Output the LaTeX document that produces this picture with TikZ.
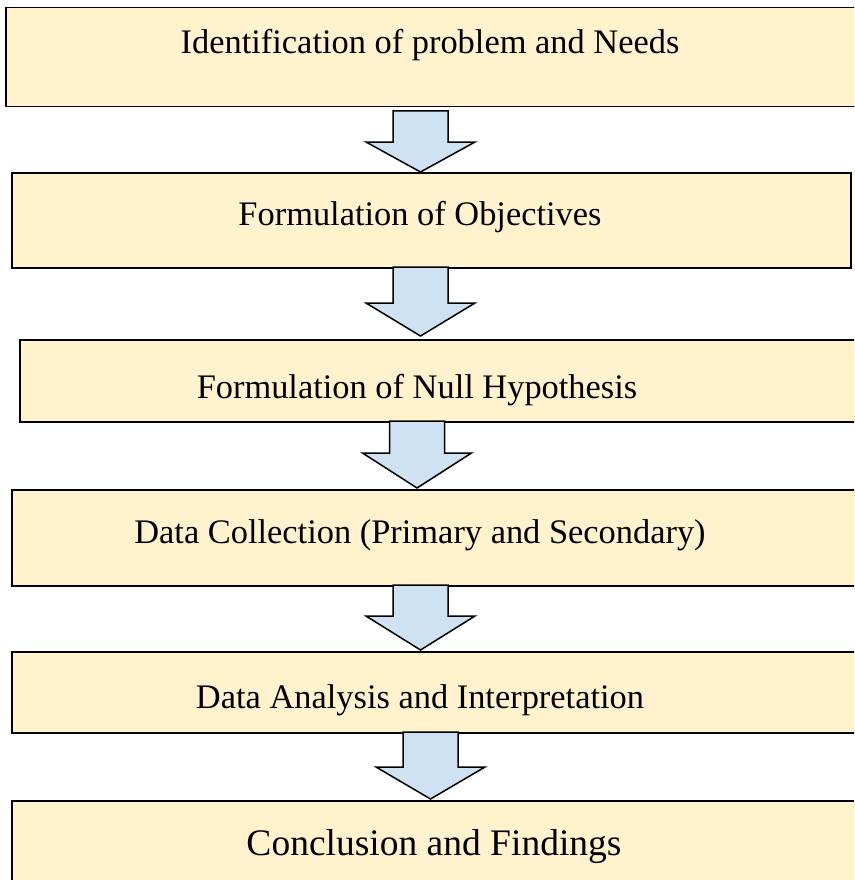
\documentclass[tikz,border=0pt]{standalone}
\usepackage{fontspec}
\setmainfont{Liberation Serif}
\definecolor{boxfill}{HTML}{FFF2CC}
\definecolor{arrowfill}{HTML}{CFE2F3}
\tikzset{
  stagebox/.style={draw=black, line width=1.5pt, fill=boxfill, rectangle, anchor=north west, inner sep=0pt},
  stagetext/.style={anchor=base, inner sep=0pt, font=\fontsize{34.4}{40}\selectfont},
  bigtext/.style={anchor=base, inner sep=0pt, font=\fontsize{37.5}{44}\selectfont},
  blockarrow/.style={draw=black, line width=1.5pt, fill=arrowfill, line join=miter}
}
% #1 centre x, #2 shaft top, #3 head start, #4 tip, #5 name
\newcommand\downblock[5]{%
  \coordinate (#5-top) at (#1,#2);
  \coordinate (#5-tip) at (#1,#4);
  \draw[blockarrow] ($(#5-top)+(-27.5,0)$) -- ($(#5-top)+(27.5,0)$) -- (#1+27.5,#3) -- (#1+54.5,#3) -- (#5-tip) -- (#1-54.5,#3) -- (#1-27.5,#3) -- cycle;}
\usetikzlibrary{calc}
\begin{document}
\begin{tikzpicture}[x=1pt,y=-1pt]
\clip (0,0) rectangle (854,880);
\fill[white] (0,0) rectangle (854,880);
% boxes
\node[stagebox, minimum width=860pt, minimum height=99pt] (b1) at (5,7) {};
\node[stagebox, minimum width=839pt, minimum height=95pt] (b2) at (11,172) {};
\node[stagebox, minimum width=850pt, minimum height=82pt] (b3) at (19,339) {};
\node[stagebox, minimum width=860pt, minimum height=96pt] (b4) at (11,489) {};
\node[stagebox, minimum width=860pt, minimum height=81pt] (b5) at (11,651) {};
\node[stagebox, minimum width=860pt, minimum height=100pt] (b6) at (11,800) {};
% texts
\node[stagetext] (t1) at (430,54) {Identification of problem and Needs};
\node[stagetext] (t2) at (420,225) {Formulation of Objectives};
\node[stagetext] (t3) at (417,398) {Formulation of Null Hypothesis};
\node[stagetext] (t4) at (420,543) {Data Collection (Primary and Secondary)};
\node[stagetext] (t5) at (420,708) {Data Analysis and Interpretation};
\node[bigtext] (t6) at (434,855) {Conclusion and Findings};
% arrows
\downblock{420.5}{111}{142}{172}{a1}
\downblock{420.5}{267}{303}{336}{a2}
\downblock{417}{421}{453}{488}{a3}
\downblock{420.5}{585}{616}{650}{a4}
\downblock{430.5}{732}{767}{799}{a5}
\end{tikzpicture}
\end{document}
